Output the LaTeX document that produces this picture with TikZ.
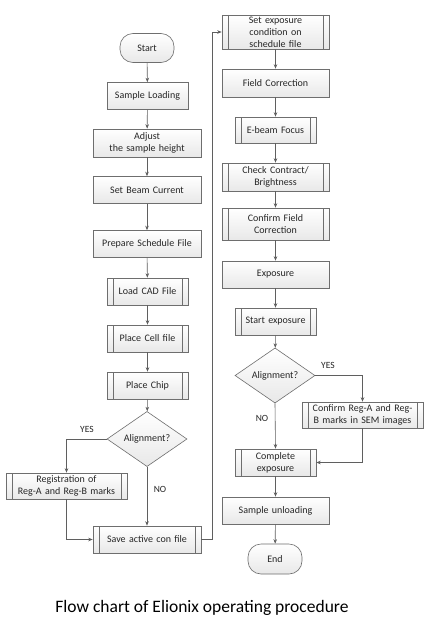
\documentclass[tikz,border=0pt]{standalone}
\usepackage{fontspec}
\setmainfont{Carlito}
\usetikzlibrary{shapes.geometric,arrows.meta}
\definecolor{edge}{RGB}{95,95,95}
\definecolor{bord}{RGB}{110,110,110}
\tikzset{
  base/.style={draw=bord, line width=0.6pt, top color=white, bottom color=gray!18,
     inner sep=1pt, align=center, font=\fontsize{10}{12}\selectfont, text=black!85},
  proc/.style={base, rectangle, minimum width=#1, minimum height=27, text width=#1-4},
  proc/.default=108,
  sub/.style={proc=#1, path picture={
     \draw[bord, line width=0.5pt] ([xshift=6]path picture bounding box.north west) -- ([xshift=6]path picture bounding box.south west);
     \draw[bord, line width=0.5pt] ([xshift=-6]path picture bounding box.north east) -- ([xshift=-6]path picture bounding box.south east);}},
  sub/.default=81,
  term/.style={base, rectangle, rounded corners=13, minimum width=54, minimum height=29},
  dec/.style={base, diamond, minimum width=80, minimum height=40, inner sep=0},
  conn/.style={draw=edge, line width=0.6pt, -{Stealth[length=4.5pt,width=3.5pt]}},
  lbl/.style={font=\fontsize{9.5}{11}\selectfont, text=black!85}
}
\begin{document}
\begin{tikzpicture}[x=1pt,y=-1pt]
\useasboundingbox[fill=white] (0,0) rectangle (446,642);
% left column
\node[term] (start) at (147,48) {Start};
\node[proc=81] (load) at (147.5,96) {Sample Loading};
\node[proc, minimum height=28] (adjust) at (147,143) {Adjust\\the sample height};
\node[proc] (beam) at (147,190) {Set Beam Current};
\node[proc] (prep) at (147,244) {Prepare Schedule File};
\node[sub] (cad) at (147.5,291.5) {Load CAD File};
\node[sub] (cell) at (147.5,338.5) {Place Cell file};
\node[sub] (chip) at (147.5,385.5) {Place Chip};
\node[dec] (al1) at (147,439) {Alignment?};
\node[sub=121, minimum height=26] (reg) at (66.5,486) {Registration of\\Reg-A and Reg-B marks};
\node[sub=108] (save) at (147,539.5) {Save active con file};
% right column
\node[sub=107, minimum height=34] (setexp) at (275.5,32) {Set exposure\\condition on\\schedule file};
\node[proc=107, minimum height=28] (field) at (275.5,83) {Field Correction};
\node[sub=81, minimum height=26] (focus) at (275.5,130) {E-beam Focus};
\node[sub=107, minimum height=28] (check) at (275.5,177) {Check Contract/\\Brightness};
\node[sub=107, minimum height=32] (cfield) at (275.5,224) {Confirm Field\\Correction};
\node[proc=107] (expo) at (275.5,274.5) {Exposure};
\node[sub=81] (startexp) at (275.5,321.5) {Start exposure};
\node[dec] (al2) at (275,375.5) {Alignment?};
\node[sub=121, minimum height=26] (confirm) at (362.5,415) {Confirm Reg-A and Reg-\\B marks in SEM images};
\node[sub=81] (complete) at (275.5,462.5) {Complete\\exposure};
\node[proc=107] (unload) at (275.5,510.5) {Sample unloading};
\node[term, minimum height=30] (end) at (275,559) {End};
% labels
\node[lbl] (yes1) at (87,429) {YES};
\node[lbl] (no1) at (160,489) {NO};
\node[lbl] (yes2) at (328,365) {YES};
\node[lbl] (no2) at (262,418) {NO};
\node[font=\fontsize{17.5}{20}\selectfont, text=black] (cap) at (202,608) {Flow chart of Elionix operating procedure};
% connectors
\draw[conn] (start) -- (load);
\draw[conn] (load) -- (adjust);
\draw[conn] (adjust) -- (beam);
\draw[conn] (beam) -- (prep);
\draw[conn] (prep) -- (cad);
\draw[conn] (cad) -- (cell);
\draw[conn] (cell) -- (chip);
\draw[conn] (chip) -- (al1);
\draw[conn] (al1.west) -| (reg.north);
\draw[conn] (reg.south) |- (save.west);
\draw[conn] (al1.south) -- (save.north);
\draw[conn] (save.east) -- ++(11,0) |- (setexp.west);
\draw[conn] (setexp) -- (field);
\draw[conn] (field) -- (focus);
\draw[conn] (focus) -- (check);
\draw[conn] (check) -- (cfield);
\draw[conn] (cfield) -- (expo);
\draw[conn] (expo) -- (startexp);
\draw[conn] (startexp) -- (al2);
\draw[conn] (al2.east) -| (confirm.north);
\draw[conn] (confirm.south) |- (complete.east);
\draw[conn] (al2.south) -- (complete.north);
\draw[conn] (complete) -- (unload);
\draw[conn] (unload) -- (end);
\end{tikzpicture}
\end{document}
